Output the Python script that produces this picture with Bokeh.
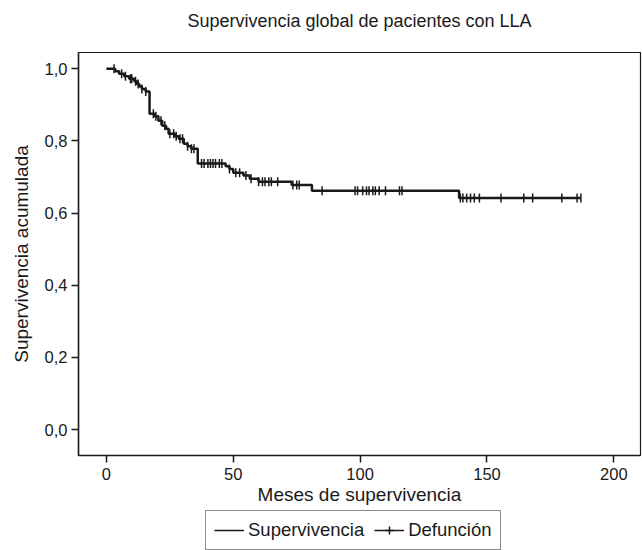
from bokeh.plotting import figure
from bokeh.models import Range1d, FixedTicker, Legend, LegendItem, Label
from bokeh.layouts import column
from bokeh.embed import file_html
from bokeh.resources import INLINE
import numpy as np

# Kaplan-Meier step data (months, cumulative survival after the step)
event_months = [0, 3.5, 5, 7, 9, 11, 12, 13, 14, 15.5, 17, 19, 20.5, 22, 23.5, 24.5,
                27, 28.5, 30.5, 32, 33.5, 36, 47, 48.5, 50, 54, 56.5, 60, 73, 81, 139, 187]
survival = [1.0, 0.993, 0.986, 0.979, 0.972, 0.965, 0.958, 0.951, 0.944, 0.937, 0.875,
            0.868, 0.856, 0.842, 0.834, 0.82, 0.813, 0.806, 0.792, 0.785, 0.778, 0.737,
            0.73, 0.722, 0.712, 0.704, 0.695, 0.687, 0.678, 0.662, 0.642, 0.642]

# Censored observations (months)
censor_months = [3, 6, 7.5, 9.5, 10, 11.5, 12.5, 14, 15.5, 18.5, 19.5, 21.5, 23, 25, 26.5,
                 27.5, 29, 30, 32, 33.5, 34.5, 37.5, 38.5, 40, 41, 42, 43, 44.5, 45.5,
                 48.5, 51, 52.5, 55, 57, 60, 61.5, 62.5, 64, 65, 67.5, 73.5, 75, 76, 85,
                 98, 99, 101, 102.5, 103.5, 105, 106, 107.5, 110, 115.5, 116.5, 139.5,
                 140.5, 142, 143.5, 145, 147, 155.5, 164.5, 168, 179.5, 185.5, 187]

x_ticks = [0, 50, 100, 150, 200]
y_ticks = [0.0, 0.2, 0.4, 0.6, 0.8, 1.0]
y_tick_labels = ["0,0", "0,2", "0,4", "0,6", "0,8", "1,0"]

title_text = "Supervivencia global de pacientes con LLA"
x_label = "Meses de supervivencia"
y_label = "Supervivencia acumulada"
legend_labels = ["Supervivencia", "Defunción"]

FONT = "Liberation Sans"
INK = "#1a1a1a"

ev = np.array(event_months)
sv = np.array(survival)
cm = np.array(censor_months)
idx = np.searchsorted(ev, cm, side="right") - 1
censor_surv = sv[idx]


def blank(h):
    f = figure(frame_width=642, frame_height=h, output_backend="svg", toolbar_location=None,
               x_range=Range1d(0, 642), y_range=Range1d(0, h),
               x_axis_location=None, y_axis_location=None, min_border=0)
    f.grid.visible = False
    f.outline_line_color = None
    f.background_fill_color = "white"
    f.border_fill_color = "white"
    return f


# Title strip (its frame is aligned with the main frame, which starts 78px in)
header = blank(52)
header.add_layout(Label(x=281, y=32, text=title_text,
                        text_align="center", text_baseline="middle", text_font=FONT,
                        text_font_size="18px", text_color=INK))

# Main chart
p = figure(frame_width=562, frame_height=403, output_backend="svg", toolbar_location=None,
           x_range=Range1d(-11, 210.5), y_range=Range1d(-0.072, 1.045),
           min_border_left=78, min_border_right=2, min_border_top=0, min_border_bottom=52)

p.grid.visible = False
p.outline_line_color = INK
p.outline_line_width = 1.2
p.background_fill_color = "white"
p.border_fill_color = "white"

for ax in (p.xaxis[0], p.yaxis[0]):
    ax.axis_line_color = INK
    ax.axis_line_width = 1.5
    ax.major_tick_line_color = INK
    ax.major_tick_line_width = 1.5
    ax.major_tick_out = 7
    ax.major_tick_in = 0
    ax.minor_tick_line_color = None
    ax.major_label_text_font = FONT
    ax.major_label_text_font_size = "16.5px"
    ax.major_label_text_color = INK
    ax.axis_label_text_font = FONT
    ax.axis_label_text_font_size = "19px"
    ax.axis_label_text_font_style = "normal"
    ax.axis_label_text_color = INK

p.xaxis.ticker = FixedTicker(ticks=x_ticks)
p.yaxis.ticker = FixedTicker(ticks=y_ticks)
p.yaxis.major_label_overrides = {t: l for t, l in zip(y_ticks, y_tick_labels)}
p.xaxis.axis_label = x_label
p.yaxis.axis_label = y_label
p.xaxis.major_label_standoff = 5
p.xaxis.axis_label_standoff = 1
p.yaxis.major_label_standoff = 4
p.yaxis.axis_label_standoff = 10

p.step(x=event_months, y=survival, mode="after", line_color=INK, line_width=2.5)
p.scatter(x=censor_months, y=censor_surv, marker="dash", angle=np.pi / 2,
          size=9, line_color=INK, line_width=1.5)

# Legend strip (key glyphs use the real data on an off-screen range)
lf = blank(43)
lf.extra_x_ranges = {"off": Range1d(1000, 2000)}
key_line = lf.step(x=event_months, y=survival, mode="after", line_color=INK,
                   line_width=1.5, x_range_name="off")
key_cross = lf.scatter(x=censor_months, y=censor_surv, marker="cross",
                       size=14, line_color=INK, line_width=1.5, x_range_name="off")
legend = Legend(items=[LegendItem(label=legend_labels[0], renderers=[key_line]),
                       LegendItem(label=legend_labels[1], renderers=[key_line, key_cross])],
                orientation="horizontal", location=(205, 0),
                label_text_font=FONT, label_text_font_size="18.5px", label_text_color=INK,
                border_line_color=INK, border_line_width=1, padding=8, spacing=10,
                glyph_width=30, label_standoff=4, margin=0)
lf.add_layout(legend)

layout = column(header, p, lf, spacing=0)
open("out.html", "w").write(file_html(layout, INLINE))
